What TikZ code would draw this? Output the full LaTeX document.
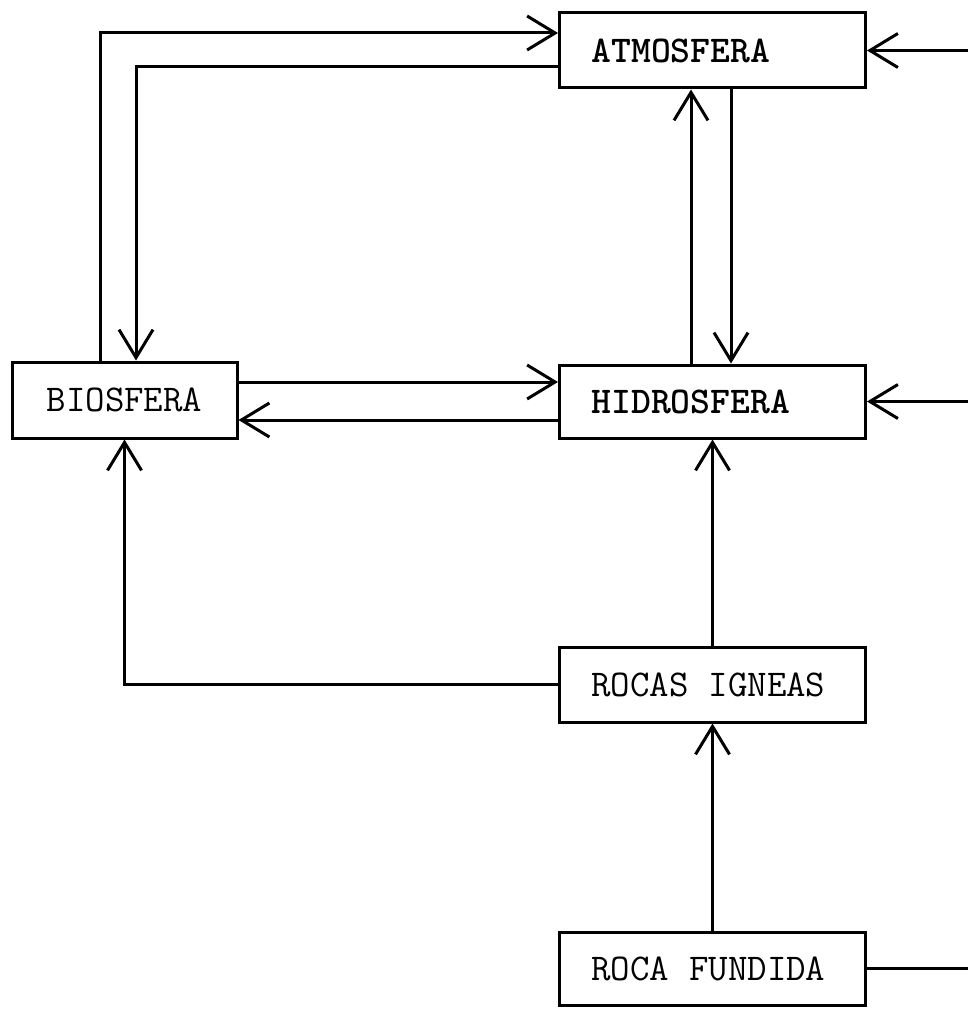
\documentclass[tikz,border=0pt]{standalone}
\usepackage{tikz}
\usetikzlibrary{arrows.meta}

\begin{document}
\begin{tikzpicture}[x=0.5pt, y=-0.5pt, line width=1.5pt,
  caja/.style={draw, line width=1.5pt, inner sep=0pt, minimum height=37.5pt, font=\ttfamily\fontsize{18.9}{20}\selectfont, execute at begin node={\spaceskip=0.525em\relax}},
  cajader/.style={caja, text width=121pt, inner xsep=16pt, align=left},
  negrita/.style={font=\ttfamily\bfseries\fontsize{18.9}{20}\selectfont},
  flecha/.style={-{Straight Barb[length=14pt, width=17pt]}}]
\useasboundingbox (0,0) rectangle (968,1010);
%text width
\node[cajader, negrita] (atm) at (712.5,50.5) {ATMOSFERA};
\node[caja, minimum width=112.5pt, minimum height=38pt] (bio) at (124.5,400) {BIOSFERA};
\node[cajader, negrita, minimum height=36.5pt] (hid) at (712.5,401.5) {HIDROSFERA};
\node[cajader] (ign) at (712.5,684.5) {ROCAS IGNEAS};
\node[cajader, minimum height=36.5pt] (fun) at (712.5,968.5) {ROCA FUNDIDA};
\coordinate (margen) at (968,0);
\draw [flecha] ([xshift=-12.25pt]bio.north) |- ([yshift=8.75pt]atm.west);
\draw [flecha] ([yshift=-8.25pt]atm.west) -| ([xshift=5.75pt]bio.north);
\draw [flecha] ([xshift=-10.75pt]hid.north) -- ([xshift=-10.75pt]atm.south);
\draw [flecha] ([xshift=9.25pt]atm.south) -- ([xshift=9.25pt]hid.north);
\draw [flecha] ([yshift=9pt]bio.east) -- ([yshift=9pt]bio.east -| hid.west);
\draw [flecha] ([yshift=-10pt]bio.east -| hid.west) -- ([yshift=-10pt]bio.east);
\draw [flecha] (ign) -- (hid);
\draw [flecha] (ign.west) -| (bio.south);
\draw [flecha] (fun) -- (ign);
\draw (fun.east) -- (fun.east -| margen);
\draw [flecha] (atm.east -| margen) -- (atm.east);
\draw [flecha] (hid.east -| margen) -- (hid.east);
\end{tikzpicture}
\end{document}
